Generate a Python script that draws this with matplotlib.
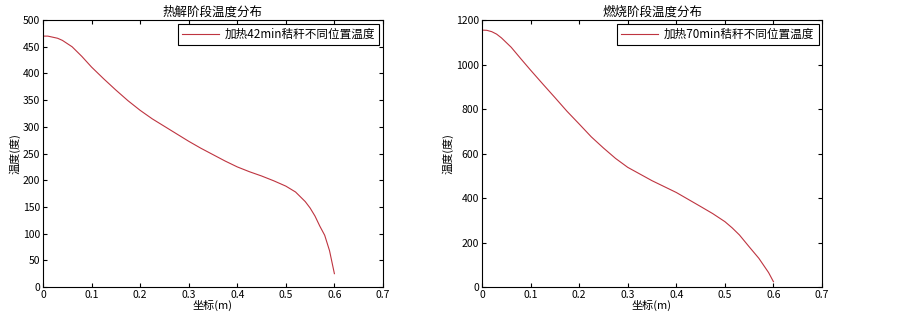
import matplotlib
matplotlib.use("Agg")
import matplotlib.pyplot as plt

plt.rcParams['font.family'] = ['Noto Sans CJK SC', 'DejaVu Sans']

# Left: pyrolysis stage
x1 = [0, 0.01, 0.02, 0.03, 0.04, 0.06, 0.08, 0.1, 0.125, 0.15, 0.175, 0.2,
      0.225, 0.25, 0.275, 0.3, 0.325, 0.35, 0.375, 0.4, 0.425, 0.45, 0.475,
      0.5, 0.52, 0.54, 0.55, 0.56, 0.57, 0.58, 0.59, 0.6]
y1 = [470, 470, 468, 466, 462, 450, 432, 412, 390, 369, 349, 331,
      315, 301, 287, 273, 260, 248, 236, 225, 216, 208, 199,
      189, 178, 160, 148, 133, 114, 97, 68, 25]

# Right: combustion stage
x2 = [0, 0.01, 0.02, 0.03, 0.04, 0.06, 0.08, 0.1, 0.125, 0.15, 0.175, 0.2,
      0.225, 0.25, 0.275, 0.3, 0.35, 0.4, 0.45, 0.475, 0.5, 0.515, 0.53,
      0.55, 0.57, 0.59, 0.6]
y2 = [1155, 1154, 1148, 1137, 1120, 1078, 1026, 975, 913, 852, 790, 733,
      675, 625, 578, 538, 478, 425, 362, 330, 294, 266, 234,
      181, 129, 65, 24]

titles = ['热解阶段温度分布', '燃烧阶段温度分布']
labels = ['加热42min秸秆不同位置温度', '加热70min秸秆不同位置温度']
xlabel = '坐标(m)'
ylabel = '温度(度)'
xticks = [0, 0.1, 0.2, 0.3, 0.4, 0.5, 0.6, 0.7]
yticks1 = [0, 50, 100, 150, 200, 250, 300, 350, 400, 450, 500]
yticks2 = [0, 200, 400, 600, 800, 1000, 1200]

fig = plt.figure(figsize=(9.03, 3.17), dpi=100)
ax1 = fig.add_axes([0.0476, 0.0946, 0.3765, 0.842])
ax2 = fig.add_axes([0.5338, 0.0946, 0.3765, 0.842])

color = '#be3440'
for ax, x, y, t, lab, yt in [(ax1, x1, y1, titles[0], labels[0], yticks1),
                              (ax2, x2, y2, titles[1], labels[1], yticks2)]:
    ax.plot(x, y, color=color, lw=0.8, label=lab)
    ax.set_xlim(0, 0.7)
    ax.set_ylim(yt[0], yt[-1])
    ax.set_xticks(xticks)
    ax.set_xticklabels([('%g' % v) for v in xticks])
    ax.set_yticks(yt)
    ax.tick_params(direction='in', top=True, right=True, labelsize=7.5,
                   length=3, width=0.8, pad=2)
    for s in ax.spines.values():
        s.set_linewidth(0.8)
    ax.set_title(t, fontsize=9, pad=3)
    ax.set_xlabel(xlabel, fontsize=8, labelpad=0)
    ax.set_ylabel(ylabel, fontsize=8, labelpad=2)
    leg = ax.legend(loc='upper right', fontsize=8.4, fancybox=False,
                    framealpha=1, borderpad=0.35, handlelength=3.2,
                    borderaxespad=0.3, handletextpad=0.5)
    leg.get_frame().set_edgecolor('black')
    leg.get_frame().set_linewidth(0.8)

fig.savefig('out.png', dpi=100)
